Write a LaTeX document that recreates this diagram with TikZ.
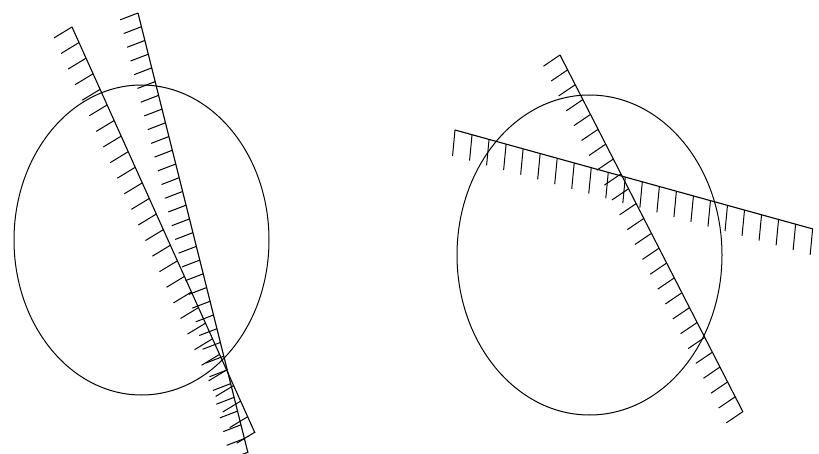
\documentclass[tikz,border=0pt]{standalone}
\usetikzlibrary{decorations.markings}
\begin{document}
\begin{tikzpicture}[x=1pt,y=-1pt,line width=1.1pt,
  hatched/.style n args={3}{postaction={decorate,decoration={markings,
    mark=between positions 0 and 1 step #1 with {\draw[line width=1pt] (0,0) -- (#2:#3);}}}},
  outline/.style={draw=black,line width=1pt}]
\fill[white] (0,0) rectangle (819,454);
\useasboundingbox (0,0) rectangle (819,454);
% left figure
\coordinate (A1) at (72,27);   \coordinate (A2) at (255,433);
\coordinate (B1) at (138,13);  \coordinate (B2) at (248,453);
\draw[outline] (141.5,240) ellipse [x radius=127.5pt, y radius=155pt];
\draw[hatched={17.1pt}{-83}{21pt}] (A1) -- (A2);
\draw[hatched={14.15pt}{-83}{19pt}] (B1) -- (B2);
% right figure
\coordinate (C1) at (560,55);  \coordinate (C2) at (743,412);
\coordinate (D1) at (455,130); \coordinate (D2) at (813,229);
\draw[outline] (589.5,255) ellipse [x radius=132.5pt, y radius=160pt];
\draw[hatched={16.7pt}{-83}{20pt}] (C1) -- (C2);
\draw[hatched={17.67pt}{-80}{26pt}] (D1) -- (D2);
\end{tikzpicture}
\end{document}
